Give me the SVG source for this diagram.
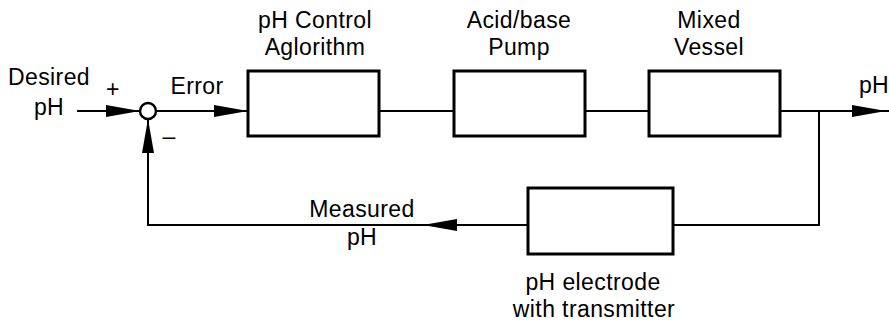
<svg xmlns="http://www.w3.org/2000/svg" xmlns:xlink="http://www.w3.org/1999/xlink" width="889" height="322" viewBox="0 0 889 322">
<style>
  .box { fill: #ffffff; stroke: #000000; stroke-width: 3; }
  .wire { fill: none; stroke: #000000; stroke-width: 2; }
  .lbl { font-family: "Liberation Sans", Arial, sans-serif; font-size: 23px; letter-spacing: 0.4px; fill: #000000; text-anchor: middle; }
  .head { fill: #000000; stroke: none; }
</style>
<defs>
  <polygon id="ah" class="head" points="0,0 -34,-6 -34,6"/>
</defs>
<rect width="889" height="322" fill="#ffffff"/>

<g id="connectors">
  <line class="wire" x1="77" y1="111" x2="140" y2="111"/>
  <use xlink:href="#ah" href="#ah" transform="translate(140,111)"/>
  <line class="wire" x1="156" y1="111" x2="248" y2="111"/>
  <use xlink:href="#ah" href="#ah" transform="translate(248,111)"/>
  <line class="wire" x1="380" y1="111" x2="454" y2="111"/>
  <line class="wire" x1="585" y1="111" x2="649" y2="111"/>
  <line class="wire" x1="780" y1="111" x2="889" y2="111"/>
  <use xlink:href="#ah" href="#ah" transform="translate(886,111)"/>
  <polyline class="wire" points="819,111 819,225 673,225"/>
  <polyline class="wire" points="528,225 148,225 148,119"/>
  <use xlink:href="#ah" href="#ah" transform="translate(423,225) rotate(180)"/>
  <use xlink:href="#ah" href="#ah" transform="translate(148,119) rotate(-90)"/>
</g>

<g id="sum">
  <circle cx="148" cy="111" r="8" fill="#ffffff" stroke="#000000" stroke-width="2.5"/>
  <text class="lbl" x="113" y="97">+</text>
  <text class="lbl" x="169" y="144">–</text>
</g>

<g id="input">
  <text class="lbl" x="49" y="85">Desired</text>
  <text class="lbl" x="49" y="115">pH</text>
</g>

<g id="error-label">
  <text class="lbl" x="197" y="94">Error</text>
</g>

<g id="controller">
  <rect class="box" x="248" y="71" width="131" height="65"/>
  <text class="lbl" x="315" y="28">pH Control</text>
  <text class="lbl" x="315" y="55">Aglorithm</text>
</g>

<g id="pump">
  <rect class="box" x="454" y="71" width="131" height="65"/>
  <text class="lbl" x="519" y="28">Acid/base</text>
  <text class="lbl" x="519" y="55">Pump</text>
</g>

<g id="vessel">
  <rect class="box" x="649" y="71" width="131" height="65"/>
  <text class="lbl" x="709" y="28">Mixed</text>
  <text class="lbl" x="709" y="55">Vessel</text>
</g>

<g id="output">
  <text class="lbl" x="874" y="93">pH</text>
</g>

<g id="electrode">
  <rect class="box" x="528" y="188" width="145" height="66"/>
  <text class="lbl" x="593" y="290">pH electrode</text>
  <text class="lbl" x="594" y="317">with transmitter</text>
</g>

<g id="measured-label">
  <text class="lbl" x="362" y="217">Measured</text>
  <text class="lbl" x="362" y="245">pH</text>
</g>
</svg>
